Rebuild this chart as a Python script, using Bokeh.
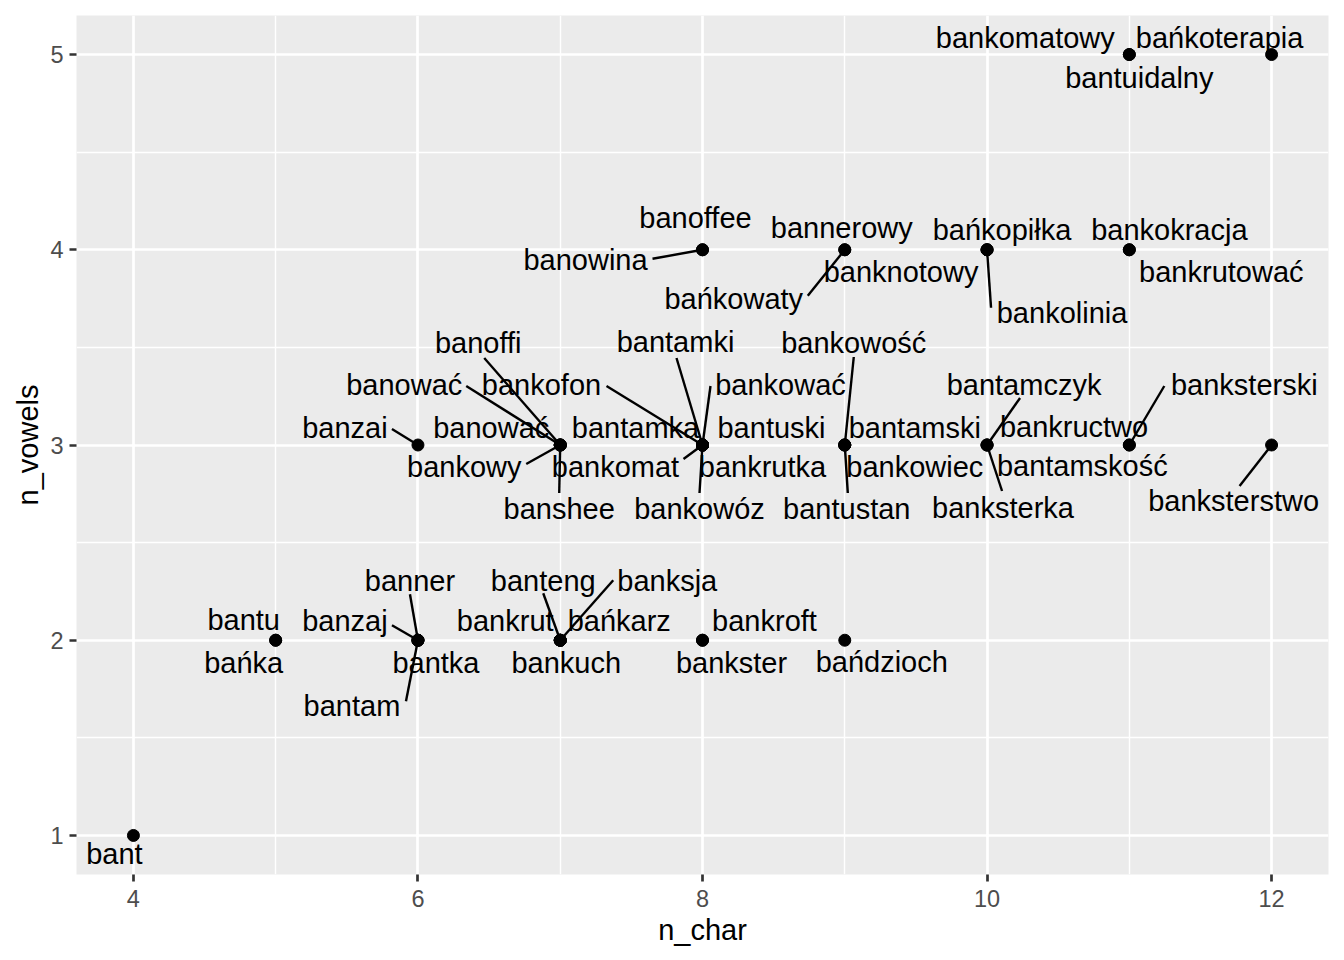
from bokeh.plotting import figure
from bokeh.models import ColumnDataSource, Range1d, FixedTicker
from bokeh.core.properties import value
from bokeh.embed import file_html
from bokeh.resources import INLINE

# ---- data ----
words = ["bant", "bantu", "bańka", "banner", "banzaj", "bantka", "bantam", "banzai",
         "banteng", "banksja", "bankrut", "bańkarz", "bankuch", "bankroft", "bankster",
         "bańdzioch", "banoffi", "banować", "banować", "bankowy", "banshee",
         "bankofon", "bantamka", "bankomat", "bantamki", "bankować", "bantuski",
         "bankrutka", "bankowóz", "bankowość", "bantamski", "bankowiec", "bantustan",
         "bantamczyk", "bankructwo", "banksterka", "banksterski", "bantamskość",
         "banksterstwo", "banoffee", "banowina", "bannerowy", "bańkowaty",
         "banknotowy", "bańkopiłka", "bankolinia", "bankokracja", "bankrutować",
         "bankomatowy", "bantuidalny", "bańkoterapia"]
n_char = [4, 5, 5, 6, 6, 6, 6, 6,
          7, 7, 7, 7, 7, 8, 8,
          9, 7, 7, 7, 7, 7,
          8, 8, 8, 8, 8, 8,
          8, 8, 9, 9, 9, 9,
          10, 10, 10, 11, 11,
          12, 8, 8, 9, 9,
          10, 10, 10, 11, 11,
          11, 11, 12]
n_vowels = [1, 2, 2, 2, 2, 2, 2, 3,
            2, 2, 2, 2, 2, 2, 2,
            2, 3, 3, 3, 3, 3,
            3, 3, 3, 3, 3, 3,
            3, 3, 3, 3, 3, 3,
            3, 3, 3, 3, 3,
            3, 4, 4, 4, 4,
            4, 4, 4, 4, 4,
            5, 5, 5]
x_ticks = [4, 6, 8, 10, 12]
y_ticks = [1, 2, 3, 4, 5]

# ---- layout of repelled labels (pixel offsets from the point) ----
label_dx = [-19, -32, -32, -8, -73, 18, -66, -73,
            -17, 107, -55, 59, 6, 62, 29,
            37, -82, -156, -69, -96, -1,
            -161, -67, -87, -27, 78, 69,
            60, -3, 9, 70, 70, 2,
            37, 87, 16, 115, -47,
            -38, -7, -117, -3, -111,
            -86, 15, 75, 40, 92,
            -104, 10, -52]
label_dy = [19, -20, 23, -59, -19, 23, 66, -17,
            -59, -59, -19, -19, 23, -19, 23,
            22, -102, -60, -17, 22, 64,
            -60, -17, 22, -103, -60, -17,
            22, 64, -102, -17, 22, 64,
            -60, -18, 63, -60, 21,
            56, -32, 10, -22, 49,
            22, -20, 63, -20, 22,
            -17, 23, -17]
seg_end = {3: (-8, -46), 4: (-26, -15), 6: (-12, 61), 7: (-26, -16),
           8: (-17, -47), 9: (53, -60), 16: (-76, -87), 17: (-94, -59),
           19: (-34, 19), 20: (-1, 48), 21: (-96, -59), 23: (-19, 14),
           24: (-26, -87), 25: (8, -59), 28: (-3, 48), 29: (9, -88),
           32: (3, 48), 33: (33, -47), 35: (15, 46), 36: (35, -59),
           38: (-32, 41), 40: (-50, 9), 42: (-37, 46), 45: (4, 58)}

W, H = 1336, 952
ML, MR, MT, MB = 76, 8, 15, 78
X0, X1 = 3.6, 12.4
Y0, Y1 = 0.8, 5.2
ppx = (W - ML - MR) / (X1 - X0)
ppy = (H - MT - MB) / (Y1 - Y0)

FONT = "Liberation Sans"

p = figure(width=W, height=H, output_backend="svg", toolbar_location=None,
           x_range=Range1d(X0, X1), y_range=Range1d(Y0, Y1),
           min_border_left=ML, min_border_right=MR, min_border_top=MT,
           min_border_bottom=MB, background_fill_color="#EBEBEB",
           border_fill_color="white", outline_line_color=None)

p.xaxis.ticker = FixedTicker(ticks=x_ticks, minor_ticks=[5, 7, 9, 11])
p.yaxis.ticker = FixedTicker(ticks=y_ticks, minor_ticks=[1.5, 2.5, 3.5, 4.5])
for ax in (p.xaxis, p.yaxis):
    ax.axis_line_color = None
    ax.major_tick_line_color = "#333333"
    ax.major_tick_line_width = 2.7
    ax.major_tick_out = 7
    ax.major_tick_in = 0
    ax.minor_tick_out = 0
    ax.minor_tick_in = 0
    ax.minor_tick_line_color = None
    ax.major_label_text_font = FONT
    ax.major_label_text_font_size = "23.5px"
    ax.major_label_text_color = "#4D4D4D"
    ax.axis_label_text_font = FONT
    ax.axis_label_text_font_size = "29px"
    ax.axis_label_text_font_style = "normal"
    ax.axis_label_text_color = "black"
p.xaxis.axis_label = "n_char"
p.yaxis.axis_label = "n_vowels"
p.xaxis.major_label_standoff = 8
p.yaxis.major_label_standoff = 6
p.xaxis.axis_label_standoff = 4
p.yaxis.axis_label_standoff = 3

for g in (p.xgrid, p.ygrid):
    g.grid_line_color = "white"
    g.grid_line_width = 2.7
    g.minor_grid_line_color = "white"
    g.minor_grid_line_width = 1.4

# segments
sx0, sy0, sx1, sy1 = [], [], [], []
for i, (ex, ey) in seg_end.items():
    sx0.append(n_char[i])
    sy0.append(n_vowels[i])
    sx1.append(n_char[i] + ex / ppx)
    sy1.append(n_vowels[i] - ey / ppy)
p.segment(x0=sx0, y0=sy0, x1=sx1, y1=sy1, line_color="black", line_width=2.4)

pts = ColumnDataSource(dict(x=n_char, y=n_vowels))
p.scatter(x="x", y="y", source=pts, size=12, color="black")

lab = ColumnDataSource(dict(x=n_char, y=n_vowels, word=words, dx=label_dx, dy=label_dy))
p.text(x="x", y="y", text="word", x_offset="dx", y_offset="dy", source=lab,
       text_align="center", text_baseline="middle", text_font=value(FONT),
       text_font_size="29px", text_color="black")

open("out.html", "w").write(file_html(p, INLINE))
